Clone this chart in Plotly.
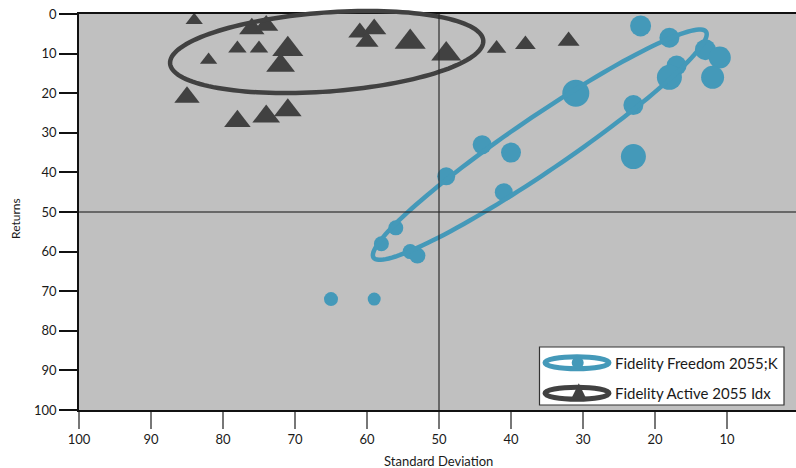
import numpy as np
import plotly.graph_objects as go

# ---------------- data ----------------
freedom_name = "Fidelity Freedom 2055;K"
freedom_sd = [22, 18, 13, 11, 17, 18, 12, 31, 23, 44, 40, 23, 49, 41, 56, 58, 54, 53, 65, 59]
freedom_ret = [3, 6, 9, 11, 13, 16, 16, 20, 23, 33, 35, 36, 41, 45, 54, 58, 60, 61, 72, 72]
freedom_size = [21, 20, 21, 22, 20, 25, 23, 27, 20, 19, 20, 25, 18, 18, 15, 15, 15, 16, 14, 13]

active_name = "Fidelity Active 2055 Idx"
active_sd = [84, 76, 74, 78, 75, 82, 71, 72, 85, 78, 74, 71, 61, 59, 60, 54, 49, 42, 38, 32]
active_ret = [1.6, 3.7, 2.9, 8.7, 8.7, 11.6, 8.9, 13.0, 21.0, 27.1, 25.9, 24.3, 4.7, 3.8, 7.0, 7.1, 10.1, 8.7, 7.7, 6.8]
active_size = [15, 22, 21, 16, 16, 15, 27, 25, 22, 23, 24, 24, 20, 21, 20, 27, 26, 17, 18, 19]

x_ticks = [100, 90, 80, 70, 60, 50, 40, 30, 20, 10, 0]
y_ticks = [0, 10, 20, 30, 40, 50, 60, 70, 80, 90, 100]
x_title = "Standard Deviation"
y_title = "Returns"

# ---------------- style ----------------
BLUE = "#4499b9"
DARK = "#414141"
BG = "#c0c0c0"
FONT = "Lato"

W, H = 796, 468
ML, MR, MT, MB = 79, 0, 14, 58
PW, PH = W - ML - MR, H - MT - MB
X_RANGE = [100, 100 - PW / 7.2]
Y_RANGE = [100, 0]


def to_px(x, y):
    px = ML + (X_RANGE[0] - x) / (X_RANGE[0] - X_RANGE[1]) * PW
    py = MT + (y - Y_RANGE[1]) / (Y_RANGE[0] - Y_RANGE[1]) * PH
    return px, py


def px_to_paper(px, py):
    return (px - ML) / PW, (H - MB - py) / PH


def ellipse_path(cx, cy, a, b, ang):
    pcx, pcy = to_px(cx, cy)
    t = np.linspace(0, 2 * np.pi, 145)
    phi = np.radians(ang)
    dx = a * np.cos(t) * np.cos(phi) + b * np.sin(t) * np.sin(phi)
    dy = -a * np.cos(t) * np.sin(phi) + b * np.sin(t) * np.cos(phi)
    pts = [px_to_paper(pcx + u, pcy + v) for u, v in zip(dx, dy)]
    return "M " + " L ".join(f"{p:.5f},{q:.5f}" for p, q in pts) + " Z"


fig = go.Figure()
fig.add_trace(go.Scatter(
    x=freedom_sd, y=freedom_ret, mode="markers", name=freedom_name,
    marker=dict(color=BLUE, size=freedom_size, symbol="circle", opacity=1, line=dict(width=0)),
    cliponaxis=False, showlegend=False))
fig.add_trace(go.Scatter(
    x=active_sd, y=active_ret, mode="markers", name=active_name,
    marker=dict(color=DARK, size=active_size, symbol="triangle-up", opacity=1, line=dict(width=0)),
    cliponaxis=False, showlegend=False))

shapes = []
# group ellipses
shapes.append(dict(type="path", xref="paper", yref="paper",
                   path=ellipse_path(36.0, 33.0, 201, 27, 34.2),
                   line=dict(color=BLUE, width=4.5), layer="above"))
shapes.append(dict(type="path", xref="paper", yref="paper",
                   path=ellipse_path(65.6, 9.6, 157, 39.5, 4.2),
                   line=dict(color=DARK, width=4.5), layer="above"))
# quadrant lines at 50
shapes.append(dict(type="line", xref="x", yref="paper", x0=50, x1=50, y0=0, y1=1,
                   line=dict(color="rgba(45,45,45,0.8)", width=1.5), layer="above"))
shapes.append(dict(type="line", xref="paper", yref="y", x0=0, x1=1, y0=50, y1=50,
                   line=dict(color="rgba(45,45,45,0.8)", width=1.5), layer="above"))

# custom legend
lx0, ly0 = px_to_paper(539.5, 405)
lx1, ly1 = px_to_paper(784, 347)
shapes.append(dict(type="rect", xref="paper", yref="paper", x0=lx0, x1=lx1, y0=ly0, y1=ly1,
                   fillcolor="white", line=dict(color="#333333", width=1.2), layer="above"))
annotations = []
for name, color, cy, kind in [(freedom_name, BLUE, 362.7, "circle"), (active_name, DARK, 393.3, "tri")]:
    ex0, ey0 = px_to_paper(545, cy + 6)
    ex1, ey1 = px_to_paper(609, cy - 6)
    shapes.append(dict(type="circle", xref="paper", yref="paper", x0=ex0, x1=ex1, y0=ey0, y1=ey1,
                       line=dict(color=color, width=5), layer="above"))
    if kind == "circle":
        cx0, cy0 = px_to_paper(577.7 - 6, cy + 6)
        cx1, cy1 = px_to_paper(577.7 + 6, cy - 6)
        shapes.append(dict(type="circle", xref="paper", yref="paper", x0=cx0, x1=cx1, y0=cy0, y1=cy1,
                           fillcolor=color, line=dict(width=0), layer="above"))
    else:
        p1 = px_to_paper(578.8, cy - 10)
        p2 = px_to_paper(571, cy + 6)
        p3 = px_to_paper(586.6, cy + 6)
        shapes.append(dict(type="path", xref="paper", yref="paper",
                           path=f"M {p1[0]},{p1[1]} L {p2[0]},{p2[1]} L {p3[0]},{p3[1]} Z",
                           fillcolor=color, line=dict(width=0), layer="above"))
    tx, ty = px_to_paper(613, cy)
    annotations.append(dict(xref="paper", yref="paper", x=tx, y=ty, text=name, showarrow=False,
                            xanchor="left", yanchor="middle",
                            font=dict(family=FONT, size=15, color="#1a1a1a")))

# axis titles
xt = px_to_paper(438, 461)
annotations.append(dict(xref="paper", yref="paper", x=xt[0], y=xt[1], text=x_title, showarrow=False,
                        xanchor="center", yanchor="middle", font=dict(family=FONT, size=13, color="#1a1a1a")))
yt = px_to_paper(15, 219)
annotations.append(dict(xref="paper", yref="paper", x=yt[0], y=yt[1], text=y_title, showarrow=False,
                        textangle=-90, xanchor="center", yanchor="middle",
                        font=dict(family=FONT, size=12, color="#1a1a1a")))

fig.update_layout(
    width=W, height=H,
    margin=dict(l=ML, r=MR, t=MT, b=MB, pad=0),
    paper_bgcolor="white", plot_bgcolor=BG,
    font=dict(family=FONT, size=13, color="#1a1a1a"),
    shapes=shapes, annotations=annotations,
    showlegend=False,
    xaxis=dict(range=X_RANGE, tickvals=x_ticks, ticktext=[str(v) for v in x_ticks],
               ticks="outside", ticklen=17, tickwidth=2, tickcolor="#777777",
               showline=True, linecolor="#111111", linewidth=1.5, mirror=True,
               showgrid=False, zeroline=False, tickfont=dict(size=13), automargin=False),
    yaxis=dict(range=Y_RANGE, tickvals=y_ticks, ticktext=[str(v) for v in y_ticks],
               ticks="outside", ticklen=18, tickwidth=1.5, tickcolor="#111111",
               showline=True, linecolor="#111111", linewidth=1.5,
               showgrid=False, zeroline=False, tickfont=dict(size=13), automargin=False),
)

fig.write_html("out.html", config={"displayModeBar": False},
               post_script="document.body.style.margin='0px';document.body.style.overflow='hidden';")
